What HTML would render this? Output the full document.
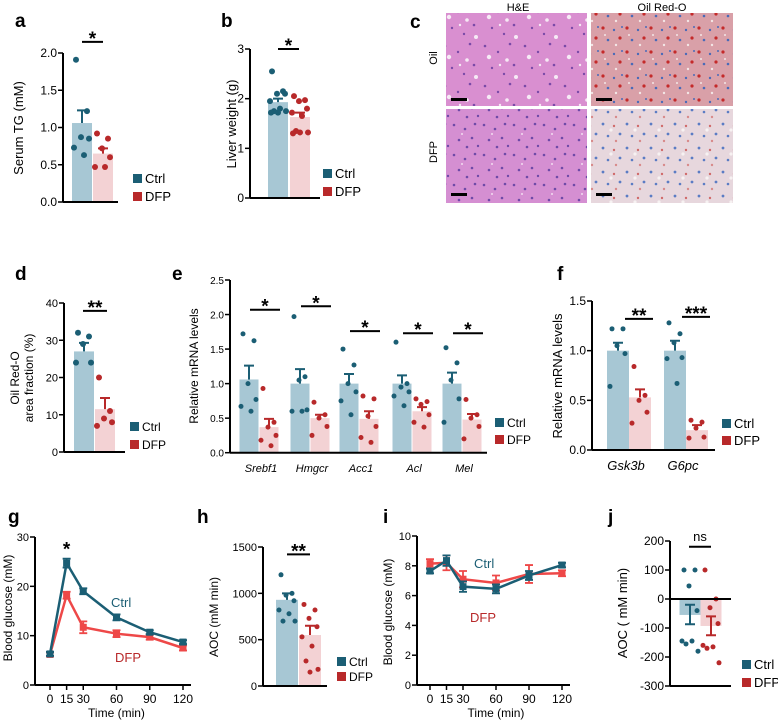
<!DOCTYPE html>
<html><head><meta charset="utf-8"><style>
body{margin:0;background:#fff}
svg{display:block;font-family:"Liberation Sans",Arial,sans-serif}
</style></head><body>
<svg id="fig" width="778" height="725" viewBox="0 0 778 725" xmlns="http://www.w3.org/2000/svg">
<defs>
<pattern id="he1" width="40" height="40" patternUnits="userSpaceOnUse"><rect width="40" height="40" fill="#d98fd0"/><circle cx="5" cy="6" r="1.3" fill="#7a4aa8"/><circle cx="18" cy="12" r="1.2" fill="#7a4aa8"/><circle cx="30" cy="4" r="1.3" fill="#7a4aa8"/><circle cx="12" cy="28" r="1.2" fill="#7a4aa8"/><circle cx="34" cy="25" r="1.3" fill="#7a4aa8"/><circle cx="24" cy="34" r="1.2" fill="#7a4aa8"/><circle cx="9" cy="17" r="2.2" fill="#f6eaf5"/><circle cx="27" cy="20" r="1.8" fill="#f6eaf5"/><circle cx="36" cy="37" r="2" fill="#f6eaf5"/><circle cx="20" cy="25" r="1.2" fill="#f6eaf5"/></pattern>
<pattern id="he2" width="30" height="30" patternUnits="userSpaceOnUse"><rect width="30" height="30" fill="#d58fd2"/><circle cx="4" cy="5" r="1.3" fill="#6f4aa8"/><circle cx="15" cy="9" r="1.3" fill="#6f4aa8"/><circle cx="25" cy="4" r="1.3" fill="#6f4aa8"/><circle cx="9" cy="20" r="1.3" fill="#6f4aa8"/><circle cx="22" cy="18" r="1.3" fill="#6f4aa8"/><circle cx="17" cy="27" r="1.3" fill="#6f4aa8"/><circle cx="28" cy="26" r="1.2" fill="#6f4aa8"/><circle cx="12" cy="14" r="1" fill="#f1dcf0"/></pattern>
<pattern id="or1" width="24" height="24" patternUnits="userSpaceOnUse"><rect width="24" height="24" fill="#d9a0a8"/><circle cx="3" cy="4" r="1.6" fill="#c42a2a"/><circle cx="14" cy="6" r="1.2" fill="#4a6ab8"/><circle cx="20" cy="14" r="1.6" fill="#c42a2a"/><circle cx="8" cy="16" r="1.3" fill="#4a6ab8"/><circle cx="16" cy="21" r="1.2" fill="#f3e6e6"/><circle cx="5" cy="11" r="1" fill="#f3e6e6"/><circle cx="22" cy="3" r="1" fill="#4a6ab8"/></pattern>
<pattern id="or2" width="24" height="24" patternUnits="userSpaceOnUse"><rect width="24" height="24" fill="#e7d7dd"/><circle cx="3" cy="4" r="1.4" fill="#5b7cc4"/><circle cx="14" cy="6" r="1.2" fill="#d06b6b"/><circle cx="20" cy="14" r="1.4" fill="#5b7cc4"/><circle cx="8" cy="16" r="1.3" fill="#5b7cc4"/><circle cx="16" cy="21" r="1.2" fill="#d88a8a"/><circle cx="11" cy="10" r="1.6" fill="#f7f2f2"/></pattern>
</defs>
<g>
<text x="410" y="28" font-size="19" font-weight="bold">c</text>
<text x="518" y="11" font-size="11" text-anchor="middle">H&amp;E</text>
<text x="662" y="11" font-size="11" text-anchor="middle">Oil Red-O</text>
<text transform="translate(437,58) rotate(-90)" font-size="11" text-anchor="middle">Oil</text>
<text transform="translate(437,152) rotate(-90)" font-size="11" text-anchor="middle">DFP</text>
<rect x="446" y="13" width="141" height="93" fill="url(#he1)"/>
<rect x="591" y="13" width="142" height="93" fill="url(#or1)"/>
<rect x="446" y="109" width="141" height="94" fill="url(#he2)"/>
<rect x="591" y="109" width="142" height="94" fill="url(#or2)"/>
<rect x="451" y="98" width="16" height="3" fill="#000"/>
<rect x="596" y="98" width="16" height="3" fill="#000"/>
<rect x="451" y="193" width="16" height="3" fill="#000"/>
<rect x="596" y="193" width="16" height="3" fill="#000"/>
</g>
</svg>
<script>
const CT='#1b5e74', CB='#a7c7d4', DT='#b8292a', DB='#f3d2d4', DL='#ee4848';
// ---- Panel a data
const aCats=['Ctrl','DFP'];
const aMeans=[1.06,0.65];
const aErrs=[1.23,0.72];
const aDotsCtrl=[1.91,1.22,0.87,0.85,0.73,0.63];
const aDotsDfp=[0.92,0.85,0.72,0.6,0.47,0.47];
const aTicks=[0,0.5,1.0,1.5,2.0];
const aTickLabels=['0.0','0.5','1.0','1.5','2.0'];
// ---- Panel b
const bMeans=[1.93,1.63];
const bErrs=[2.0,1.72];
const bDotsCtrl=[2.55,2.15,2.1,2.1,1.95,1.8,1.75,1.75,1.72,1.72];
const bDotsDfp=[2.05,1.97,1.95,1.8,1.72,1.65,1.35,1.32,1.32,1.3];
const bTicks=[0,1,2,3];
const bTickLabels=['0','1','2','3'];
// ---- Panel d
const dMeans=[27,11.5];
const dErrs=[29.3,14.5];
const dDotsCtrl=[32,31,29,24,24];
const dDotsDfp=[20,11,9,8,7];
const dTicks=[0,10,20,30,40];
const dTickLabels=['0','10','20','30','40'];
// ---- Panel e
const eGenes=['Srebf1','Hmgcr','Acc1','Acl','Mel'];
const eMeansCtrl=[1.06,1.0,1.0,1.0,1.0];
const eMeansDfp=[0.37,0.5,0.49,0.6,0.48];
const eErrCtrl=[1.26,1.21,1.14,1.12,1.16];
const eErrDfp=[0.49,0.55,0.6,0.66,0.56];
const eDotsCtrl=[[1.72,1.62,1.0,0.77,0.67,0.6],[1.97,1.1,1.05,0.62,0.6,0.6],[1.5,1.27,1.0,0.88,0.75,0.55],[1.6,1.0,0.95,0.88,0.82,0.68],[1.52,1.3,1.05,0.78,0.44]];
const eDotsDfp=[[0.93,0.44,0.37,0.25,0.18,0.1],[0.73,0.55,0.5,0.38,0.25],[0.82,0.78,0.53,0.38,0.22,0.15],[0.78,0.74,0.7,0.55,0.44,0.37],[0.77,0.55,0.5,0.38,0.2]];
const eSig=['*','*','*','*','*'];
const eSigLevel=[2.07,2.12,1.76,1.73,1.73];
const eTicks=[0,0.5,1,1.5,2,2.5];
const eTickLabels=['0.0','0.5','1.0','1.5','2.0','2.5'];
// ---- Panel f
const fGenes=['Gsk3b','G6pc'];
const fMeansCtrl=[1.0,1.0];
const fMeansDfp=[0.53,0.2];
const fErrCtrl=[1.08,1.1];
const fErrDfp=[0.61,0.25];
const fDotsCtrl=[[1.22,1.22,1.05,0.97,0.64],[1.28,1.17,1.08,0.93,0.92,0.67]];
const fDotsDfp=[[0.84,0.55,0.5,0.38,0.27],[0.3,0.28,0.22,0.13,0.12]];
const fSig=['**','***'];
const fSigLevel=[1.32,1.34];
const fTicks=[0,0.5,1,1.5];
const fTickLabels=['0.0','0.5','1.0','1.5'];
// ---- Panel g (GTT)
const gTimes=[0,15,30,60,90,120];
const gCtrl=[6.3,24.7,19,13.7,10.7,8.7];
const gCtrlErr=[0.4,0.9,0.6,0.6,0.4,0.4];
const gDfp=[6.2,18.2,11.7,10.4,9.7,7.5];
const gDfpErr=[0.4,0.7,1.2,0.7,0.5,0.5];
const gYTicks=[0,10,20,30];
const gXTickLabels=['0','15','30','60','90','120'];
// ---- Panel h
const hMeans=[930,550];
const hErrs=[1000,650];
const hDotsCtrl=[1200,1000,980,920,820,780,700,700];
const hDotsDfp=[880,820,730,640,530,430,270,180,150];
const hTicks=[0,500,1000,1500];
// ---- Panel i (ITT)
const iTimes=[0,15,30,60,90,120];
const iCtrl=[7.65,8.35,6.6,6.45,7.35,8.05];
const iCtrlErr=[0.15,0.35,0.35,0.3,0.3,0.15];
const iDfp=[8.15,8.2,7.1,6.85,7.45,7.5];
const iDfpErr=[0.3,0.5,0.55,0.5,0.6,0.2];
const iYTicks=[0,2,4,6,8,10];
// ---- Panel j
const jMeans=[-55,-93];
const jErrs=[-20,-60];
const jErrsLow=[-87,-125];
const jDotsCtrl=[100,100,45,-40,-145,-145,-155,-180];
const jDotsDfp=[100,0,-30,-85,-160,-165,-170,-220];
const jTicks=[-300,-200,-100,0,100,200];

const svg=document.getElementById('fig');
const NS='http://www.w3.org/2000/svg';
function mk(tag,attrs,txt){const e=document.createElementNS(NS,tag);for(const k in attrs)e.setAttribute(k,attrs[k]);if(txt!==undefined)e.textContent=txt;svg.appendChild(e);return e;}
function lin(v0,v1,p0,p1){return v=>p0+(v-v0)*(p1-p0)/(v1-v0);}

function yAxis(ax,y,ticks,labels,topPx,botPx,fs){
  let e=mk('line',{x1:ax,x2:ax,y1:topPx,y2:botPx,stroke:'#000','stroke-width':2});
  
  
  ticks.forEach((t,i)=>{
    let l=mk('line',{x1:ax-5,x2:ax,y1:y(t),y2:y(t),stroke:'#000','stroke-width':1.5});
    
    
    let tx=mk('text',{x:ax-6,y:y(t)+4,'font-size':fs||12,'text-anchor':'end'},labels?labels[i]:String(t));
    
    
  });
}
function xLine(x1,x2,yy){
  let e=mk('line',{x1:x1,x2:x2,y1:yy,y2:yy,stroke:'#000','stroke-width':2});
  
  
}
function bar(cx,w,y,base,v,fill,name){
  const y0=y(base),y1=y(v);
  let e=mk('rect',{x:cx-w/2,y:Math.min(y0,y1),width:w,height:Math.abs(y1-y0),fill:fill});
  
  
}
function err(cx,y,m,hi,col){
  let e=mk('path',{d:`M${cx},${y(m)}V${y(hi)}M${cx-5},${y(hi)}H${cx+5}`,stroke:col,'stroke-width':2,fill:'none'});
  
  
}
function dots(cx,y,vals,col,r){
  vals.forEach((v,i)=>{
    const off=[-6,5,-1,7,-8,2,-4,8,0,-7][i%10];
    let c=mk('circle',{cx:cx+off,cy:y(v),r:r||3,fill:col});
    
    
  });
}
function sig(x1,x2,yy,txt){
  let l=mk('line',{x1:x1,x2:x2,y1:yy,y2:yy,stroke:'#000','stroke-width':2});
  
  
  let t=mk('text',{x:(x1+x2)/2,y:txt==='ns'?yy-6:yy+3,'font-size':txt==='ns'?13:19,'font-weight':txt==='ns'?'normal':'bold','text-anchor':'middle'},txt);
  
  
}
function legend(x,y1,y2,fs){
  let r=mk('rect',{x:x,y:y1-9,width:9,height:9,fill:CT});
  
  
  let t=mk('text',{x:x+12,y:y1,'font-size':fs||13},'Ctrl');
  
  
  let r2=mk('rect',{x:x,y:y2-9,width:9,height:9,fill:DT});
  
  
  let t2=mk('text',{x:x+12,y:y2,'font-size':fs||13},'DFP');
  
  
}
function ylab(x,cy,txt,fs){
  let t=mk('text',{transform:`translate(${x},${cy}) rotate(-90)`,'font-size':fs||13,'text-anchor':'middle'},txt);
  
  
}
function plabel(x,y,txt){
  let t=mk('text',{x:x,y:y,'font-size':19,'font-weight':'bold'},txt);
  
  
}
function twoBar(o){
  const y=lin(o.v0,o.v1,o.p0,o.p1);
  yAxis(o.ax,y,o.ticks,o.labels,y(o.ticks[o.ticks.length-1]),y(o.ticks[0]),o.fs);
  const base=o.base||0;
  const cs=[o.c1,o.c2];
  bar(cs[0],o.w,y,base,o.means[0],CB,'bar-ctrl');
  bar(cs[1],o.w,y,base,o.means[1],DB,'bar-dfp');
  dots(cs[0],y,o.dc,CT,o.r);
  dots(cs[1],y,o.dd,DT,o.r);
  err(cs[0],y,o.means[0],o.errs[0],CT);
  err(cs[1],y,o.means[1],o.errs[1],DT);
  if(o.errsLow){err(cs[0],y,o.means[0],o.errsLow[0],CT);err(cs[1],y,o.means[1],o.errsLow[1],DT);}
  xLine(o.ax,o.xend,y(o.xat!==undefined?o.xat:o.ticks[0]));
  if(o.sig) sig(o.sx1,o.sx2,y(o.sigv),o.sig);
  return y;
}

// a
plabel(15,27,'a');
twoBar({v0:0,v1:2,p0:202,p1:53,ax:63,ticks:aTicks,labels:aTickLabels,c1:82,c2:103,w:20,means:aMeans,errs:aErrs,dc:aDotsCtrl,dd:aDotsDfp,xend:118,sig:'*',sx1:82,sx2:103,sigv:2.15});
ylab(23,128,'Serum TG (mM)');
legend(133,183,201);
// b
plabel(221,27,'b');
twoBar({v0:0,v1:3,p0:198,p1:49,ax:250,ticks:bTicks,labels:bTickLabels,c1:278,c2:300,w:20,means:bMeans,errs:bErrs,dc:bDotsCtrl,dd:bDotsDfp,xend:320,sig:'*',sx1:278,sx2:299,sigv:3.0});
ylab(236,124,'Liver weight (g)');
legend(323,178,196);
// d
plabel(15,280,'d');
twoBar({v0:0,v1:40,p0:452,p1:303,ax:64,ticks:dTicks,labels:dTickLabels,c1:84,c2:105,w:20,means:dMeans,errs:dErrs,dc:dDotsCtrl,dd:dDotsDfp,xend:125,sig:'**',sx1:83,sx2:107,sigv:37.9,fs:11});
ylab(19,378,'Oil Red-O',12);
ylab(33,378,'area fraction (%)',12);
legend(130,431,449,12);
// e
plabel(172,280,'e');
(function(){
  const y=lin(0,2.5,452.7,280);
  yAxis(230,y,eTicks,eTickLabels,280,452.7,10);
  const centers=[259,310,359,412,462];
  eGenes.forEach((g,i)=>{
    const c=centers[i];
    bar(c-10,19,y,0,eMeansCtrl[i],CB,'bar-ctrl-'+g);
    bar(c+10,19,y,0,eMeansDfp[i],DB,'bar-dfp-'+g);
    dots(c-10,y,eDotsCtrl[i],CT,2.5);
    dots(c+10,y,eDotsDfp[i],DT,2.5);
    err(c-10,y,eMeansCtrl[i],eErrCtrl[i],CT);
    err(c+10,y,eMeansDfp[i],eErrDfp[i],DT);
    sig(c-9,c+21,y(eSigLevel[i]),eSig[i]);
    let t=mk('text',{x:c+2,y:472,'font-size':11,'font-style':'italic','text-anchor':'middle'},g);
    
    
  });
  xLine(230,487,452.7);
})();
ylab(198,366,'Relative mRNA levels',12);
legend(495,427,444,12);
// f
plabel(557,280,'f');
(function(){
  const y=lin(0,1.5,450,301);
  yAxis(592,y,fTicks,fTickLabels,301,450,12);
  const centers=[629,686];
  fGenes.forEach((g,i)=>{
    const c=centers[i];
    bar(c-11,22,y,0,fMeansCtrl[i],CB,'bar-ctrl-'+g);
    bar(c+11,22,y,0,fMeansDfp[i],DB,'bar-dfp-'+g);
    dots(c-11,y,fDotsCtrl[i],CT,2.5);
    dots(c+11,y,fDotsDfp[i],DT,2.5);
    err(c-11,y,fMeansCtrl[i],fErrCtrl[i],CT);
    err(c+11,y,fMeansDfp[i],fErrDfp[i],DT);
    sig(c-4,c+24,y(fSigLevel[i]),fSig[i]);
    let t=mk('text',{x:c-3,y:470,'font-size':13,'font-style':'italic','text-anchor':'middle'},g);
    
    
  });
  xLine(592,715,450);
})();
ylab(562,376,'Relative mRNA levels',13);
legend(722,428,445,13);

function linePanel(o){
  const y=lin(0,o.ymax,o.p0,o.p1), x=lin(0,120,o.x0,o.x120);
  yAxis(o.ax,y,o.yt,null,o.p1,o.p0,11);
  xLine(o.ax,o.x120+8,o.p0);
  o.times.forEach((t,i)=>{
    let l=mk('line',{x1:x(t),x2:x(t),y1:o.p0,y2:o.p0+5,stroke:'#000','stroke-width':1.5});
    
    
    let tx=mk('text',{x:x(t),y:o.p0+18,'font-size':12,'text-anchor':'middle'},o.xl[i]);
    
    
  });
  let xt=mk('text',{x:(o.x0+o.x120)/2,y:o.p0+32,'font-size':12,'text-anchor':'middle'},'Time (min)');
  
  
  [[o.dfp,o.dfpErr,DL,'dfp'],[o.ctrl,o.ctrlErr,CT,'ctrl']].forEach(([vals,errs,col,nm])=>{
    const d=vals.map((v,i)=>(i?'L':'M')+x(o.times[i])+','+y(v)).join('');
    let p=mk('path',{d:d,stroke:col,'stroke-width':2.5,fill:'none'});
    
    
    vals.forEach((v,i)=>{
      const xx=x(o.times[i]);
      let e=mk('path',{d:`M${xx},${y(v-errs[i])}V${y(v+errs[i])}M${xx-4},${y(v+errs[i])}H${xx+4}M${xx-4},${y(v-errs[i])}H${xx+4}`,stroke:col,'stroke-width':1.8,fill:'none'});
      
      
      let m=mk('rect',{x:xx-3.5,y:y(v)-3.5,width:7,height:7,fill:col});
      
      
    });
  });
  return {x,y};
}
// g
plabel(8,523,'g');
(function(){
  const s=linePanel({ymax:30,p0:685,p1:537,ax:35,x0:50,x120:183,yt:gYTicks,times:gTimes,xl:gXTickLabels,ctrl:gCtrl,ctrlErr:gCtrlErr,dfp:gDfp,dfpErr:gDfpErr});
  let t=mk('text',{x:s.x(15),y:s.y(gCtrl[1]+gCtrlErr[1])-3,'font-size':19,'font-weight':'bold','text-anchor':'middle'},'*');
  
  
})();
ylab(12,608,'Blood glucose (mM)',12);
let gc=mk('text',{x:111,y:607,'font-size':13,fill:CT},'Ctrl');


let gd=mk('text',{x:115,y:662,'font-size':13,fill:DT},'DFP');


// h
plabel(197,523,'h');
twoBar({v0:0,v1:1500,p0:686,p1:547,ax:263,ticks:hTicks,c1:287,c2:310,w:22,means:hMeans,errs:hErrs,dc:hDotsCtrl,dd:hDotsDfp,xend:327,sig:'**',sx1:287,sx2:310,sigv:1420,fs:11,r:2.5});
ylab(218,617,'AOC (mM min)',12);
legend(337,666,681,12);
// i
plabel(383,523,'i');
linePanel({ymax:10,p0:685,p1:536,ax:417,x0:430,x120:562,yt:iYTicks,times:iTimes,xl:gXTickLabels,ctrl:iCtrl,ctrlErr:iCtrlErr,dfp:iDfp,dfpErr:iDfpErr});
ylab(392,612,'Blood glucose (mM)',12);
let ic=mk('text',{x:474,y:568,'font-size':13,fill:CT},'Ctrl');


let id=mk('text',{x:470,y:622,'font-size':13,fill:DT},'DFP');


// j
plabel(608,523,'j');
(function(){
  const y=twoBar({v0:-300,v1:200,p0:686,p1:541,ax:670,ticks:jTicks,c1:690,c2:711,w:21,base:0,means:jMeans,errs:jErrs,errsLow:jErrsLow,dc:jDotsCtrl,dd:jDotsDfp,xend:731,xat:-300,sig:'ns',sx1:689,sx2:711,sigv:180,fs:12,r:2.5});
  xLine(670,731,y(0));
})();
ylab(627,613,'AOC ( mM min)',13);
legend(742,669,687,13);
</script>
</body></html>
